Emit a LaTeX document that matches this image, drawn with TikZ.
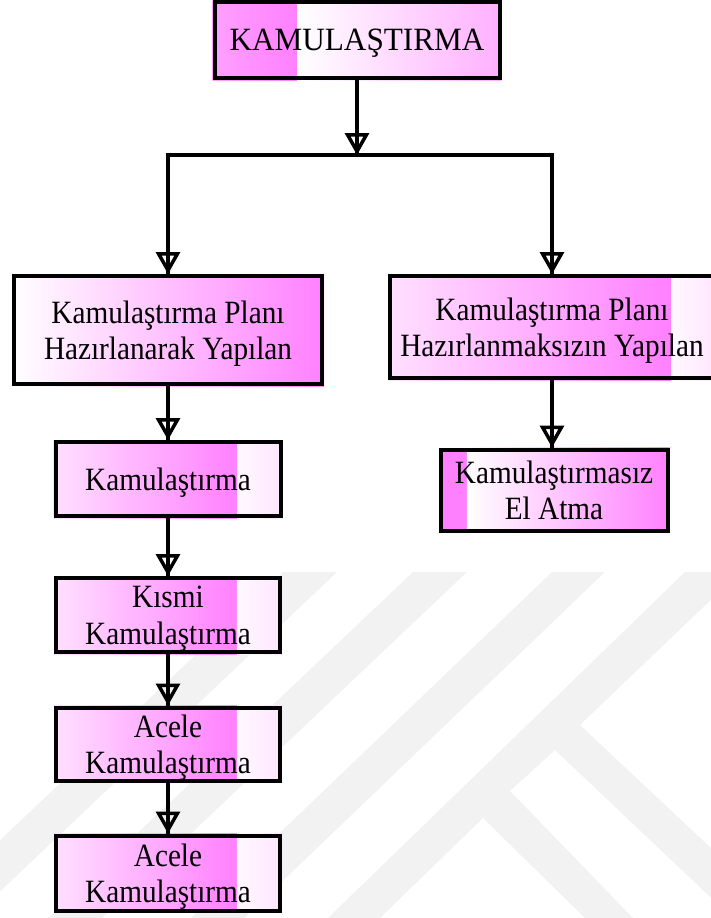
\documentclass[tikz,border=0pt]{standalone}
\usepackage{fontspec}
\newfontfamily\tnr[FakeStretch=0.9]{Liberation Serif}
\newfontfamily\tnrw[FakeStretch=0.96]{Liberation Serif}
\usetikzlibrary{arrows.meta,calc}
\pgfdeclarelayer{wm}\pgfdeclarelayer{bg}\pgfsetlayers{wm,bg,main}
\definecolor{mag}{RGB}{255,128,255}
\definecolor{pinkA}{RGB}{255,224,255}
\definecolor{pinkT}{RGB}{255,160,255}
\definecolor{pinkR}{RGB}{255,176,255}
\definecolor{paleA}{RGB}{255,248,255}
\definecolor{paleB}{RGB}{255,230,255}
\definecolor{wmgray}{RGB}{242,242,242}
\begin{document}
\begin{tikzpicture}[x=1pt,y=-1pt,
  box/.style n args={2}{draw=black, line width=4pt, inner sep=0pt, align=center,
    minimum width=#1, minimum height=#2, text depth=0pt,
    font=\tnr\fontsize{32.5}{36.5}\selectfont},
  conn/.style={draw=black, line width=3.5pt},
  arw/.style={draw=black, line width=3.5pt, -{Triangle[open, width=24pt, length=22pt, line width=3.5pt]}},
  wmark/.style={fill=wmgray, draw=none}
]
\useasboundingbox (0,0) rectangle (711,918);
\clip (0,0) rectangle (711,918);

% nodes
\node[box={285pt}{76pt}, font=\tnrw\fontsize{32.5}{36.5}\selectfont] (top) at (357,40) {KAMULAŞTIRMA};
\node[box={308pt}{108pt}] (plan) at (168,330) {Kamulaştırma Planı\\Hazırlanarak Yapılan};
\node[box={324pt}{102pt}] (noplan) at (552,327) {Kamulaştırma Planı\\Hazırlanmaksızın Yapılan};
\node[box={225pt}{74pt}] (kam) at (168,479) {Kamulaştırma};
\node[box={227pt}{81pt}] (el) at (554,490) {Kamulaştırmasız\\El Atma};
\node[box={224pt}{74pt}] (kis) at (168,615) {Kısmi\\Kamulaştırma};
\node[box={224pt}{73pt}] (ac1) at (168,744) {Acele\\Kamulaştırma};
\node[box={224pt}{75pt}] (ac2) at (168,873) {Acele\\Kamulaştırma};

\coordinate (j) at (357,155);
\coordinate (hl) at (168,155);
\coordinate (hr) at (552,155);

% watermark
\begin{pgfonlayer}{wm}
\fill[wmark] (283,572) -- (337,572) -- (-28,918) -- (-82,918) -- cycle;
\fill[wmark] (413,572) -- (467,572) -- (102,918) -- (48,918) -- cycle;
\fill[wmark] (552,572) -- (605,572) -- (244,918) -- (191,918) -- cycle;
\fill[wmark] (685,572) -- (740,572) -- (580,725) -- (761,895) -- (761,945) -- (555,750)
  -- (510,791) -- (633,918) -- (585,918) -- (483,818) -- (380,918) -- (328,918) -- cycle;
\end{pgfonlayer}

% fills
\begin{pgfonlayer}{bg}
\shade[left color=pinkT, right color=mag] (top.south west) rectangle ($(top.north west)!0.293!(top.north east)$);
\shade[left color=white, right color=pinkR] ($(top.south west)!0.293!(top.south east)$) rectangle (top.north east);
\shade[left color=white, right color=mag] (plan.south west) rectangle (plan.north east);
\shade[left color=pinkA, right color=mag] (noplan.south west) rectangle ($(noplan.north west)!0.864!(noplan.north east)$);
\shade[left color=paleA, right color=paleB] ($(noplan.south west)!0.864!(noplan.south east)$) rectangle (noplan.north east);
\foreach \n in {kam,kis,ac1,ac2}{
  \shade[left color=pinkA, right color=mag] (\n.south west) rectangle ($(\n.north west)!0.802!(\n.north east)$);
  \shade[left color=paleA, right color=paleB] ($(\n.south west)!0.802!(\n.south east)$) rectangle (\n.north east);
}
\fill[mag] (el.south west) rectangle ($(el.north west)!0.123!(el.north east)$);
\shade[left color=white, right color=mag] ($(el.south west)!0.123!(el.south east)$) rectangle (el.north east);
\end{pgfonlayer}

% connectors
\draw[conn] (top) -- (j);
\draw[arw] (top) -- (j);
\draw[conn, line join=miter] (plan.north) -- (hl) -- (hr) -- (noplan.north);
\draw[arw] (hl) -- (plan.north);
\draw[arw] (hr) -- (noplan.north);
\draw[conn] (plan) -- (kam);
\draw[arw] (plan) -- (kam);
\draw[conn] (noplan.south) -- (noplan.south |- el.north);
\draw[arw] (noplan.south) -- (noplan.south |- el.north);
\draw[conn] (kam) -- (kis);
\draw[arw] (kam) -- (kis);
\draw[conn] (kis) -- (ac1);
\draw[arw] (kis) -- (ac1);
\draw[conn] (ac1) -- (ac2);
\draw[arw] (ac1) -- (ac2);
\end{tikzpicture}
\end{document}
